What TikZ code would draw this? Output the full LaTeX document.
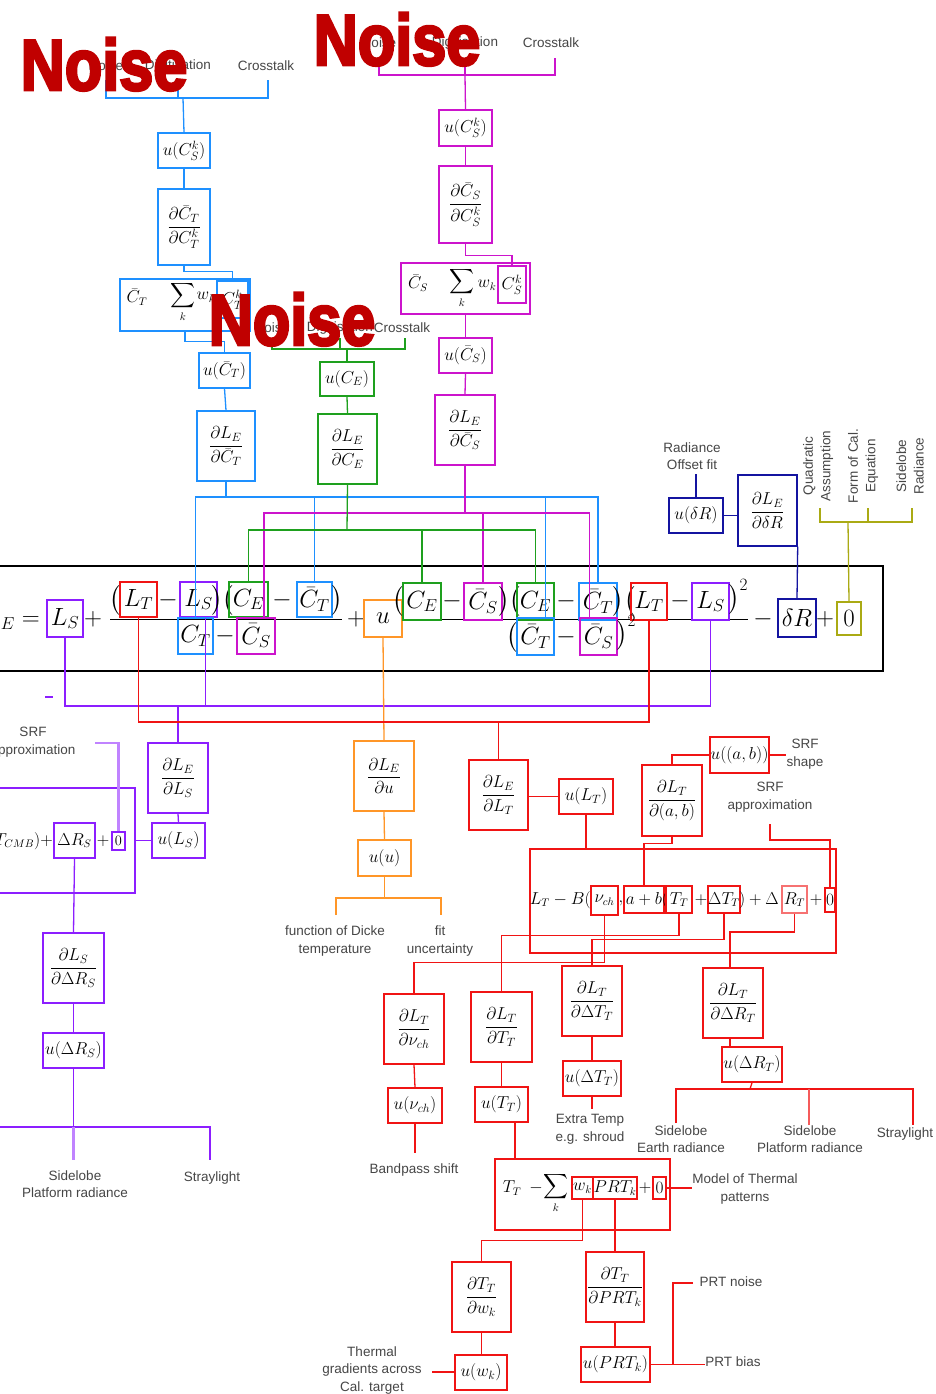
\documentclass[tikz,border=0pt]{standalone}
\usepackage{amsmath}
\usepackage{fontspec}
\setsansfont{Liberation Sans}
\newfontfamily\noisefont{Liberation Sans}[BoldFeatures={FakeBold=4}]
\definecolor{cblue}{RGB}{30,144,255}
\definecolor{cmag}{RGB}{204,20,204}
\definecolor{cgreen}{RGB}{30,160,30}
\definecolor{cpurp}{RGB}{140,30,255}
\definecolor{cred}{RGB}{240,20,20}
\definecolor{corange}{RGB}{255,150,40}
\definecolor{cnavy}{RGB}{20,20,160}
\definecolor{colive}{RGB}{170,170,20}
\definecolor{cnoise}{RGB}{192,0,0}
\definecolor{lblc}{RGB}{70,70,70}
\newcommand{\bx}[8][]{\node[bxs,draw=#3,minimum width={(#6-#4)*1pt},minimum height={(#7-#5)*1pt},#1] (#2) at ({(#4+#6)/2},{(#5+#7)/2}) {#8};}
\begin{document}
\begin{tikzpicture}[x=1pt,y=-1pt,
  bxs/.style={rectangle,line width=1.4pt,inner sep=0pt,font=\fontsize{17}{19}\selectfont},
  eqb/.style={font=\fontsize{26}{28}\selectfont},
  mdb/.style={font=\fontsize{16}{18}\selectfont},
  smb/.style={font=\fontsize{14}{16}\selectfont},
  eqo/.style={font=\fontsize{26}{28}\selectfont,inner sep=0pt},
  mdo/.style={font=\fontsize{16}{18}\selectfont,inner sep=0pt},
  lbl/.style={font={\sffamily\fontsize{13.5}{17.5}\selectfont},text=lblc,align=center,inner sep=0pt},
  ln/.style={line width=1.3pt},
  noise/.style={font={\noisefont\bfseries\fontsize{72}{72}\selectfont},text=cnoise,anchor=base,inner sep=0pt}]
\useasboundingbox (0,0) rectangle (935,1394);
\fill[white] (0,0) rectangle (935,1394);

% ================= BLUE (top left) =================
\node[lbl] (bN) at (106,66) {Noise};
\node[lbl] (bD) at (178,66) {Digitisation};
\node[lbl] (bX) at (266,66) {Crosstalk};
\bx{uCSk1}{cblue}{158}{133}{210}{168}{$u(C_S^k)$}
\bx{dCT}{cblue}{158}{189}{210}{265}{$\dfrac{\partial\bar C_T}{\partial C_T^k}$}
\bx{sumT}{cblue}{120}{279}{250}{331}{}
\bx{CTk}{cblue}{217}{281}{248}{318}{$C_T^k$}
\node[mdo] (sT1) at (137,297) {$\bar C_T$};
\node[mdo] (sT2) at (183,302) {$\displaystyle\sum_k$};
\node[mdo] (sT3) at (206,297) {$w_k$};
\bx{uCT}{cblue}{199}{353}{250}{388}{$u(\bar C_T)$}
\bx{dLCT}{cblue}{197}{411}{255}{481}{$\dfrac{\partial L_E}{\partial\bar C_T}$}
\coordinate (bj) at (183,98);
\coordinate (bta) at (106,80);
\coordinate (btb) at (178,80);
\coordinate (btc) at (268,80);
\draw[ln,cblue] (bta) |- (bj) -| (btc);
\draw[ln,cblue] (btb) -- (btb |- bj);
\draw[ln,cblue] (bj) -- (uCSk1.north);
\draw[ln,cblue] (uCSk1.south) -- (dCT.north);
\draw[ln,cblue] (dCT.south) -- ++(0,6) -| (CTk.north);
\draw[ln,cblue] (sumT.south) -- ++(0,10) -| (uCT.north);
\draw[ln,cblue] (uCT.south) -- (dLCT.north);

% ================= GREEN =================
\node[lbl] (gN) at (272,328) {Noise};
\node[lbl] (gD) at (340,328) {Digitisation};
\node[lbl] (gX) at (402,328) {Crosstalk};
\coordinate (gj) at (347,349);
\coordinate (gta) at (272,338);
\coordinate (gtb) at (340,338);
\coordinate (gtc) at (405,338);
\draw[ln,cgreen] (gta) |- (gj) -| (gtc);
\draw[ln,cgreen] (gtb) -- (gtb |- gj);
\bx{uCE}{cgreen}{320}{362}{374}{396}{$u(C_E)$}
\bx{dCE}{cgreen}{318}{414}{377}{484}{$\dfrac{\partial L_E}{\partial C_E}$}
\draw[ln,cgreen] (gj) -- (uCE.north);
\draw[ln,cgreen] (uCE.south) -- (dCE.north);

% ================= MAGENTA (top) =================
\node[lbl] (mN) at (379,43) {Noise};
\node[lbl] (mD) at (465,43) {Digitisation};
\node[lbl] (mX) at (551,43) {Crosstalk};
\coordinate (mj) at (465,75);
\coordinate (mta) at (379,60);
\coordinate (mtb) at (465,60);
\coordinate (mtc) at (555,58);
\draw[ln,cmag] (mta) |- (mj) -| (mtc);
\draw[ln,cmag] (mtb) -- (mj);
\bx{uCSk2}{cmag}{439}{110}{492}{146}{$u(C_S^k)$}
\bx{dCS}{cmag}{439}{166}{492}{243}{$\dfrac{\partial\bar C_S}{\partial C_S^k}$}
\bx{sumS}{cmag}{401}{263}{530}{314}{}
\bx{CSk}{cmag}{498}{266}{526}{303}{$C_S^k$}
\node[mdo] (sS1) at (418,283) {$\bar C_S$};
\node[mdo] (sS2) at (462,288) {$\displaystyle\sum_k$};
\node[mdo] (sS3) at (487,285) {$w_k$};
\bx{uCS}{cmag}{439}{338}{492}{373}{$u(\bar C_S)$}
\bx{dLCS}{cmag}{435}{395}{495}{465}{$\dfrac{\partial L_E}{\partial\bar C_S}$}
\draw[ln,cmag] (mj) -- (uCSk2.north);
\draw[ln,cmag] (uCSk2.south) -- (dCS.north);
\draw[ln,cmag] (dCS.south) -- ++(0,12) -| (CSk.north);
\draw[ln,cmag] (sumS.south) -- (uCS.north);
\draw[ln,cmag] (uCS.south) -- (dLCS.north);

% ================= NAVY / OLIVE (right) =================
\node[lbl] (rOF) at (692,456) {Radiance\\Offset fit};
\bx{udR0}{cnavy}{669}{498}{723}{533}{$u(\delta R)$}
\bx{ddR0}{cnavy}{738}{475}{797}{546}{$\dfrac{\partial L_E}{\partial\delta R}$}
\draw[ln,cnavy] (udR0.north) -- ++(0,-23);
\draw[ln,cnavy] (udR0.east) -- (udR0.east -| ddR0.west);
\node[lbl,rotate=90] (oQ) at (818,466) {Quadratic\\Assumption};
\node[lbl,rotate=90] (oC) at (863,466) {Form of Cal.\\Equation};
\node[lbl,rotate=90] (oS) at (910,466) {Sidelobe\\Radiance};
\coordinate (olj) at (848,522);
\coordinate (ola) at (820,508);
\coordinate (olb) at (868,508);
\coordinate (olc) at (912,508);
\draw[ln,colive] (ola) |- (olj) -| (olc);
\draw[ln,colive] (olb) -- (olb |- olj);

% ================= EQUATION BAND =================
\draw[line width=1.6pt] (-5,566) -- (883,566) -- (883,671) -- (-5,671);
\node[eqo,anchor=east] (eLE) at (40,619) {$L_E =$};
\bx[eqb]{LS1}{cpurp}{47}{600}{83}{637}{$L_S$}
\node[eqo] (ep1) at (93,619) {$+$};
\draw[line width=1pt] (110,619) -- (342,619);
\node[eqo,anchor=east] (eo1) at (121,600) {$\big($};
\bx[eqb]{LT1}{cred}{120}{582}{157}{617}{$L_T$}
\node[eqo] (eo2) at (168,600) {$-$};
\bx[eqb]{LS2}{cpurp}{180}{582}{217}{617}{$L_S$}
\node[eqo] (eo3) at (223,600) {$\big)\big($};
\bx[eqb]{CE1}{cgreen}{229}{582}{268}{617}{$C_E$}
\node[eqo] (eo4) at (282,600) {$-$};
\bx[eqb]{CTn1}{cblue}{297}{582}{332}{617}{$\bar C_T$}
\node[eqo,anchor=west] (eo5) at (331,600) {$\big)$};
\bx[eqb]{CTd1}{cblue}{178}{618}{213}{654}{$C_T$}
\node[eqo] (eo6) at (225,636) {$-$};
\bx[eqb]{CSd1}{cmag}{237}{618}{275}{654}{$\bar C_S$}
\node[eqo] (ep2) at (356,619) {$+$};
\bx[eqb]{U}{corange}{364}{600}{402}{637}{$u$}
\draw[line width=1pt] (402,619) -- (748,619);
\node[eqo,anchor=east] (eo7) at (404,601) {$\big($};
\bx[eqb]{CE2}{cgreen}{403}{583}{441}{620}{$C_E$}
\node[eqo] (eo8) at (452,601) {$-$};
\bx[eqb]{CSn}{cmag}{464}{583}{502}{620}{$\bar C_S$}
\node[eqo] (eo9) at (509.5,601) {$\big)\big($};
\bx[eqb]{CE3}{cgreen}{517}{583}{554}{620}{$C_E$}
\node[eqo] (eo10) at (566,601) {$-$};
\bx[eqb]{CTn2}{cblue}{579}{583}{617}{620}{$\bar C_T$}
\node[eqo] (eo11) at (624,601) {$\big)\big($};
\bx[eqb]{LT2}{cred}{631}{583}{667}{620}{$L_T$}
\node[eqo] (eo12) at (680,601) {$-$};
\bx[eqb]{LS3}{cpurp}{692}{583}{729}{620}{$L_S$}
\node[eqo,anchor=west] (eo13) at (728,597) {$\big)^2$};
\node[eqo,anchor=east] (eo14) at (518,637) {$\big($};
\bx[eqb]{CTd2}{cblue}{517}{618}{554}{655}{$\bar C_T$}
\node[eqo] (eo15) at (566,637) {$-$};
\bx[eqb]{CSd2}{cmag}{580}{618}{617}{655}{$\bar C_S$}
\node[eqo,anchor=west] (eo16) at (616,633) {$\big)^2$};
\node[eqo] (eo17) at (763,619) {$-$};
\bx[eqb]{dR}{cnavy}{778}{599}{816}{637}{$\delta R$}
\node[eqo] (ep3) at (825,619) {$+$};
\bx[eqb]{Z}{colive}{837}{602}{861}{635}{$0$}

% buses above equation
\coordinate (bbus) at (226,497);
\draw[ln,cblue] (dLCT.south) -- (bbus);
\draw[ln,cblue] (CTd1.north) |- (CTn2.north |- bbus) -- (CTn2.north);
\draw[ln,cblue] (CTn1.north) -- (CTn1.north |- bbus);
\draw[ln,cblue] ([xshift=10pt]CTd2.north) -- ([xshift=10pt]CTd2.north |- bbus);
\coordinate (mbus) at (465,513);
\draw[ln,cmag] (dLCS.south) -- (mbus);
\draw[ln,cmag] ([xshift=8pt]CSd1.north) |- ([xshift=-9pt]CSd2.north |- mbus) -- ([xshift=-9pt]CSd2.north);
\draw[ln,cmag] (CSn.north) -- (CSn.north |- mbus);
\coordinate (gbus) at (347,530);
\draw[ln,cgreen] (dCE.south) -- (gbus);
\draw[ln,cgreen] (CE1.north) |- (CE3.north |- gbus) -- (CE3.north);
\draw[ln,cgreen] (CE2.north) -- (CE2.north |- gbus);
\draw[ln,cnavy] (ddR0.south east) -- (dR.north);
\draw[ln,colive] (olj) -- (Z.north);

% ================= PURPLE (below left) =================
\coordinate (pbus) at (178,706);
\draw[ln,cpurp] (LS1.south) |- (LS3.south |- pbus) -- (LS3.south);
\draw[ln,cpurp] ([xshift=7pt]LS2.south) -- ([xshift=7pt]LS2.south |- pbus);
\draw[ln,cpurp] (45,697) -- (53,697);
\bx{dLS}{cpurp}{148}{743}{208}{813}{$\dfrac{\partial L_E}{\partial L_S}$}
\bx{uLS}{cpurp}{152}{823}{205}{858}{$u(L_S)$}
\draw[ln,cpurp] (pbus) -- (dLS.north);
\draw[ln,cpurp] (dLS.south) -- (uLS.north);
\node[rectangle,draw=cpurp,line width=1.4pt,minimum width=140pt,minimum height=105pt,inner sep=0pt] (bigP) at (65,840.5) {};
\draw[ln,cpurp] (uLS.west) -- (bigP.east);
\node[mdo,anchor=east] (pB) at (53,841) {$B(T_{CMB})+$};
\bx[mdb]{dRS}{cpurp}{54}{823}{95}{858}{$\Delta R_S$}
\node[mdo] (pp) at (103,841) {$+$};
\bx[smb]{P0}{cpurp}{112}{832}{125}{850}{$0$}
\node[lbl] (srfL) at (33,742) {SRF\\approximation};
\coordinate (srfLa) at (95,743);
\draw[line width=2.4pt,cpurp!55] (srfLa) -| (P0.north);
\bx{dLSdRS}{cpurp}{43}{933}{104}{1003}{$\dfrac{\partial L_S}{\partial\Delta R_S}$}
\bx{uDRS}{cpurp}{43}{1033}{104}{1068}{$u(\Delta R_S)$}
\draw[ln,cpurp] (dRS.south) -- (dLSdRS.north);
\draw[ln,cpurp] (dLSdRS.south) -- (uDRS.north);
\coordinate (pj2) at (73.5,1127);
\coordinate (pjl) at (-5,1127);
\coordinate (pjr) at (210,1160);
\draw[ln,cpurp] (uDRS.south) -- (pj2);
\draw[ln,cpurp] (pjl) -| (pjr);
\draw[line width=2.2pt,cpurp!55] (pj2) -- ++(0,33);
\node[lbl] (pSP) at (75,1184) {Sidelobe\\Platform radiance};
\node[lbl] (pSt) at (212,1178) {Straylight};

% ================= ORANGE =================
\bx{dLu}{corange}{354}{741}{414}{811}{$\dfrac{\partial L_E}{\partial u}$}
\bx{uu}{corange}{358}{840}{411}{876}{$u(u)$}
\draw[ln,corange] (U.south) -- (dLu.north);
\draw[ln,corange] (dLu.south) -- (uu.north);
\coordinate (oj) at (384.5,898);
\coordinate (oja) at (336,915);
\coordinate (ojb) at (441,915);
\draw[ln,corange] (uu.south) -- (oj);
\draw[ln,corange] (oja) |- (oj) -| (ojb);
\node[lbl] (oF) at (335,941) {function of Dicke\\temperature};
\node[lbl] (oU) at (440,941) {fit\\uncertainty};

% ================= RED =================
\coordinate (rbus) at (498.5,722);
\draw[ln,cred] (LT1.south) |- (LT2.south |- rbus) -- (LT2.south);
\bx{dLT}{cred}{469}{760}{528}{830}{$\dfrac{\partial L_E}{\partial L_T}$}
\bx{uLT}{cred}{559}{779}{613}{814}{$u(L_T)$}
\draw[ln,cred] (rbus) -- (dLT.north);
\draw[ln,cred] (uLT.west -| dLT.east) -- (uLT.west);
\bx{bigR}{cred}{530}{849}{836}{953}{}
\draw[ln,cred] (uLT.south) -- (uLT.south |- bigR.north);
\node[mdo,anchor=east] (rL) at (591,900) {$L_T - B($};
\bx[mdb]{Rnu}{cred}{591}{886}{618}{915}{$\nu_{ch}$}
\node[mdo] (rc) at (621,903) {$,$};
\bx[mdb]{Rab}{cred}{624}{886}{664}{913}{$a+b$}
\node[mdo] (rp) at (665,900) {$($};
\bx[mdb]{RTT}{cred}{666}{886}{692}{913}{$T_T$}
\node[mdo] (rplus1) at (701,900) {$+$};
\bx[mdb]{RdT}{cred}{710}{886}{738}{913}{$\Delta T_T$}
\node[mdo,anchor=west] (rcl) at (739,900) {$)+\Delta$};
\bx[mdb,draw=cred!60,line width=2pt]{RdR}{cred}{782}{886}{807}{913}{$R_T$}
\node[mdo] (rplus2) at (816,900) {$+$};
\bx[mdb]{R0}{cred}{825}{888}{835}{912}{$0$}
\bx{dLTab}{cred}{642}{765}{702}{836}{$\dfrac{\partial L_T}{\partial(a,b)}$}
\bx[mdb]{uab}{cred}{710}{737}{769}{773}{$u((a,b))$}
\draw[ln,cred] (dLTab.north) |- (uab.west);
\node[lbl] (srfS) at (805,754) {SRF\\shape};
\draw[ln,cred] (uab.east) -- (uab.east -| srfS.west);
\node[lbl] (srfA) at (770,797) {SRF\\approximation};
\coordinate (sa1) at (770,824);
\coordinate (sa2) at (830,840);
\draw[ln,cred] (sa1) |- (sa2) -- (R0.north);
\draw[ln,cred] (dLTab.south) -- ++(0,7) -| (Rab.north);

\bx{dnu}{cred}{384}{994}{444}{1064}{$\dfrac{\partial L_T}{\partial\nu_{ch}}$}
\bx{dTT}{cred}{471}{992}{532}{1062}{$\dfrac{\partial L_T}{\partial T_T}$}
\bx{ddT}{cred}{562}{966}{622}{1036}{$\dfrac{\partial L_T}{\partial\Delta T_T}$}
\bx{ddR}{cred}{703}{968}{763}{1038}{$\dfrac{\partial L_T}{\partial\Delta R_T}$}
\draw[ln,cred] (RTT.south) -- ++(0,22) -| (dTT.north);
\draw[ln,cred] (Rnu.south) -- ++(0,47) -| (dnu.north);
\draw[ln,cred] (RdT.south) -- ++(0,26) -| (ddT.north);
\draw[ln,cred] (RdR.south) -- ++(0,18) -| ([xshift=-3pt]ddR.north);

\bx{unu}{cred}{388}{1088}{442}{1123}{$u(\nu_{ch})$}
\bx{uTT}{cred}{475}{1087}{528}{1122}{$u(T_T)$}
\bx{udT}{cred}{563}{1061}{621}{1096}{$u(\Delta T_T)$}
\bx{udR}{cred}{722}{1047}{782}{1082}{$u(\Delta R_T)$}
\draw[ln,cred] (dnu.south) -- (unu.north);
\draw[ln,cred] (dTT.south) -- (dTT.south |- uTT.north);
\draw[ln,cred] (ddT.south) -- (ddT.south |- udT.north);
\draw[ln,cred] ([xshift=-3pt]ddR.south) -- ([xshift=-3pt]ddR.south |- udR.north);
\draw[ln,cred] (unu.south) -- ++(0,29);
\node[lbl] (rBS) at (414,1170) {Bandpass shift};
\draw[ln,cred] (udT.south) -- ++(0,12);
\node[lbl] (rET) at (590,1129) {Extra Temp\\e.g. shroud};
\coordinate (rj3) at (750,1089);
\coordinate (rja) at (676,1123);
\coordinate (rjb) at (809,1125);
\coordinate (rjc) at (913,1125);
\draw[ln,cred] (udR.south) -- (rj3);
\draw[ln,cred] (rja) |- (rj3) -| (rjc);
\draw[ln,cred!70] (rjb) -- (rjb |- rj3);
\node[lbl] (rSE) at (681,1139) {Sidelobe\\Earth radiance};
\node[lbl] (rSP) at (810,1139) {Sidelobe\\Platform radiance};
\node[lbl] (rSt) at (905,1134) {Straylight};

\bx{sumTT}{cred}{495}{1159}{670}{1230}{}
\draw[ln,cred] ([xshift=13.5pt]uTT.south) -- ([xshift=13.5pt]uTT.south |- sumTT.north);
\node[mdo] (tT) at (512,1188) {$T_T$};
\node[mdo] (tm) at (536,1188) {$-$};
\node[mdo] (tS) at (556,1193) {$\displaystyle\sum_k$};
\bx[mdb]{wk}{cred}{572}{1177}{593}{1199}{$w_k$}
\bx[mdb]{PRT}{cred}{593}{1177}{637}{1199}{$PRT_k$}
\node[mdo] (tp) at (645,1188) {$+$};
\bx[mdb]{T0}{cred}{653}{1177}{666}{1199}{$0$}
\node[lbl] (mTP) at (745,1189) {Model of Thermal\\patterns};
\draw[ln,cred] (T0.east) -- (T0.east -| mTP.west);
\bx{dTw}{cred}{452}{1262}{511}{1332}{$\dfrac{\partial T_T}{\partial w_k}$}
\bx{dTP}{cred}{586}{1252}{644}{1322}{$\dfrac{\partial T_T}{\partial PRT_k}$}
\draw[ln,cred] (wk.south) -- ++(0,41) -| (dTw.north);
\draw[ln,cred] (PRT.south) -- (PRT.south |- dTP.north);
\bx{uw}{cred}{455}{1355}{507}{1390}{$u(w_k)$}
\bx{uP}{cred}{581}{1347}{650}{1382}{$u(PRT_k)$}
\draw[ln,cred] (dTw.south) -- (dTw.south |- uw.north);
\draw[ln,cred] (dTP.south) -- (dTP.south |- uP.north);
\node[lbl] (tg) at (372,1370) {Thermal\\gradients across\\Cal. target};
\coordinate (tga) at (432,1372);
\draw[ln,cred] (tga) -- (tga -| uw.west);
\node[lbl] (pn) at (731,1282) {PRT noise};
\node[lbl] (pb) at (733,1362) {PRT bias};
\coordinate (pk) at (673,1364.5);
\coordinate (pna) at (693,1283);
\draw[ln,cred] (uP.east) -- (uP.east -| pb.west);
\draw[ln,cred] (pna) -| (pk);

% ================= NOISE overlays =================
\node[noise] (nz1) at (104,90) {\scalebox{0.85}[1]{Noise}};
\node[noise] (nz2) at (397,65) {\scalebox{0.85}[1]{Noise}};
\node[noise] (nz3) at (292,345) {\scalebox{0.85}[1]{Noise}};
\end{tikzpicture}
\end{document}
